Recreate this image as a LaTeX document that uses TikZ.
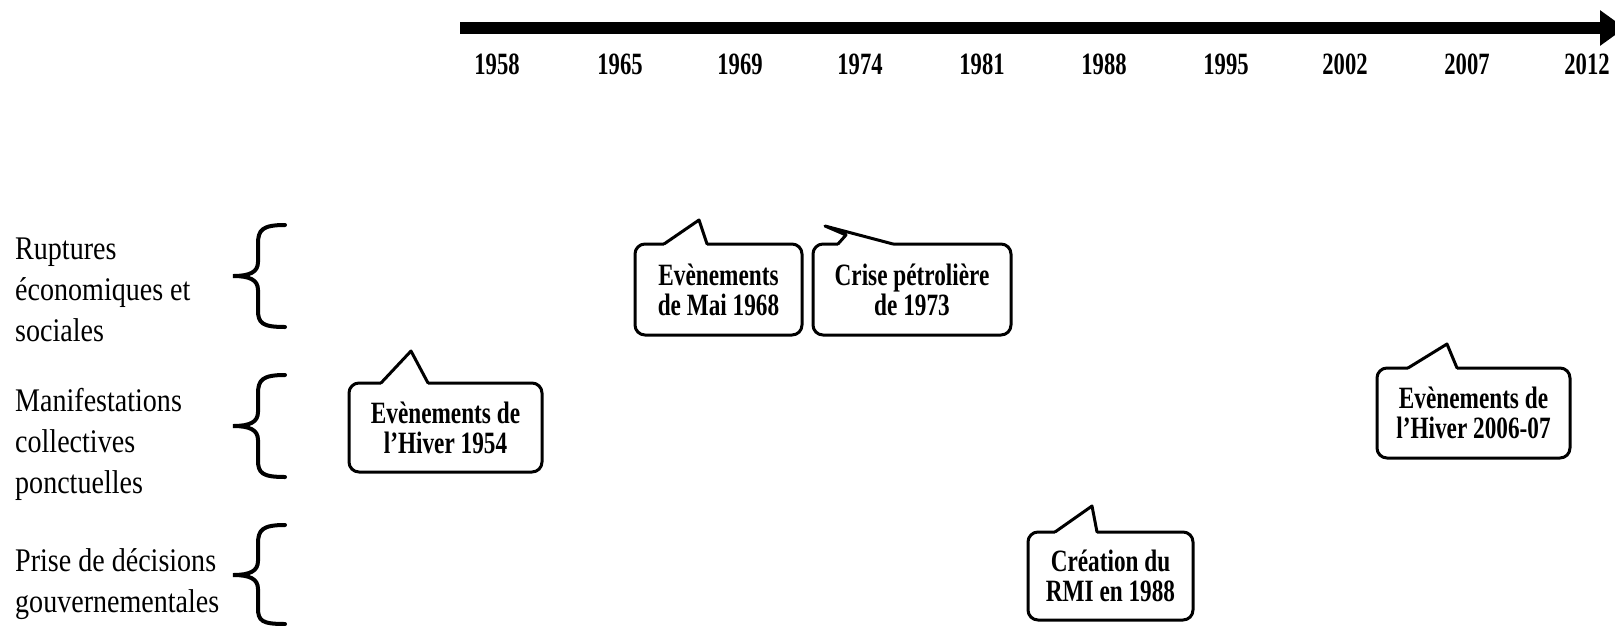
\documentclass[tikz,border=0pt]{standalone}
\usepackage{fontspec}
\newfontfamily\labelfont[FakeStretch=0.85]{Liberation Serif}
\newfontfamily\boxfont[FakeStretch=0.75]{Liberation Serif}
\newfontfamily\yearfont[FakeStretch=0.73]{Liberation Serif}
\usetikzlibrary{arrows.meta}
\tikzset{/Timeline/year/.style={
	anchor=base, inner sep=0, font=\yearfont\bfseries\fontsize{31pt}{31pt}\selectfont
}}
\tikzset{/Timeline/label/.style={
	anchor=west, align=left, inner sep=0, font=\labelfont\fontsize{33pt}{41pt}\selectfont
}}
\tikzset{/Timeline/bubble/.style={
	draw, line width=3pt, rounded corners=10pt, inner sep=0, align=center,
	font=\boxfont\bfseries\fontsize{31pt}{30pt}\selectfont
}}
\tikzset{/Timeline/wedge/.style={
	line width=3pt, line join=round, line cap=round
}}
\tikzset{/Timeline/brace/.style={
	line width=4pt, line cap=round
}}

\begin{document}
\begin{tikzpicture}[x=1pt,y=-1pt]
\useasboundingbox (0,0) rectangle (1615,625);
% time axis
\coordinate (axisstart) at (460,28);
\coordinate (axisend) at (1625,28);
\path[draw, line width=12pt, -{Triangle[length=25pt,width=34pt]}] (axisstart) -- (axisend);
{
\node[/Timeline/year] (y1958) at (497,74) {1958};
\node[/Timeline/year] (y1965) at (620,74) {1965};
\node[/Timeline/year] (y1969) at (740,74) {1969};
\node[/Timeline/year] (y1974) at (860,74) {1974};
\node[/Timeline/year] (y1981) at (982,74) {1981};
\node[/Timeline/year] (y1988) at (1104,74) {1988};
\node[/Timeline/year] (y1995) at (1226,74) {1995};
\node[/Timeline/year] (y2002) at (1345,74) {2002};
\node[/Timeline/year] (y2007) at (1467,74) {2007};
\node[/Timeline/year] (y2012) at (1587,74) {2012};
}
% categories
{
\node[/Timeline/label] (ruptures) at (15,290) {Ruptures\\économiques et\\sociales};
\node[/Timeline/label] (manif) at (15,444) {Manifestations\\collectives\\ponctuelles};
\node[/Timeline/label] (decisions) at (15,584) {Prise de décisions\\gouvernementales};
\path[draw, /Timeline/brace, shift={(0,276)}] (285,-51) .. controls (262,-51) and (258,-46) .. (258,-32) -- (258,-14) .. controls (258,-4) and (250,0) .. (233,0) .. controls (250,0) and (258,4) .. (258,14) -- (258,34) .. controls (258,47) and (262,51) .. (285,51);
\path[draw, /Timeline/brace, shift={(0,426)}] (285,-51) .. controls (262,-51) and (258,-46) .. (258,-32) -- (258,-14) .. controls (258,-4) and (250,0) .. (233,0) .. controls (250,0) and (258,4) .. (258,14) -- (258,34) .. controls (258,47) and (262,51) .. (285,51);
\path[draw, /Timeline/brace, shift={(0,575)}] (285,-50) .. controls (262,-50) and (258,-45) .. (258,-31) -- (258,-14) .. controls (258,-4) and (250,0) .. (233,0) .. controls (250,0) and (258,4) .. (258,14) -- (258,33) .. controls (258,46) and (262,49) .. (285,49);
}
% events
\node[/Timeline/bubble, minimum width=167pt, minimum height=91pt] (mai68) at (718.5,289.5) {Evènements\\de Mai 1968};
\coordinate (mai68tip) at (699,220);
\fill[white] (664,241) -- (mai68tip) -- (707,241) -- (707,247) -- (664,247) -- cycle;
\path[draw, /Timeline/wedge] (664,244) -- (mai68tip) -- (707,244);

\node[/Timeline/bubble, minimum width=198pt, minimum height=91pt] (crise73) at (912,289.5) {Crise pétrolière\\de 1973};
\coordinate (crise73tip) at (825,226);
\fill[white] (838,241) -- (846,235) -- (crise73tip) -- (893,241) -- (893,247) -- (838,247) -- cycle;
\path[draw, /Timeline/wedge] (838,244) -- (846,235) -- (crise73tip) -- (893,244);

\node[/Timeline/bubble, minimum width=193pt, minimum height=89pt] (hiver54) at (445.5,427.5) {Evènements de\\l’Hiver 1954};
\coordinate (hiver54tip) at (411,351);
\fill[white] (381,380) -- (hiver54tip) -- (428,380) -- (428,386) -- (381,386) -- cycle;
\path[draw, /Timeline/wedge] (381,383) -- (hiver54tip) -- (428,383);

\node[/Timeline/bubble, minimum width=193pt, minimum height=90pt] (hiver06) at (1473.5,413) {Evènements de\\l’Hiver 2006-07};
\coordinate (hiver06tip) at (1447,344);
\fill[white] (1408,365) -- (hiver06tip) -- (1457,365) -- (1457,371) -- (1408,371) -- cycle;
\path[draw, /Timeline/wedge] (1408,368) -- (hiver06tip) -- (1457,368);

\node[/Timeline/bubble, minimum width=165pt, minimum height=88pt] (rmi88) at (1110.5,576) {Création du\\RMI en 1988};
\coordinate (rmi88tip) at (1092,506);
\fill[white] (1055,529) -- (rmi88tip) -- (1097,529) -- (1097,535) -- (1055,535) -- cycle;
\path[draw, /Timeline/wedge] (1055,532) -- (rmi88tip) -- (1097,532);
\end{tikzpicture}
\end{document}
